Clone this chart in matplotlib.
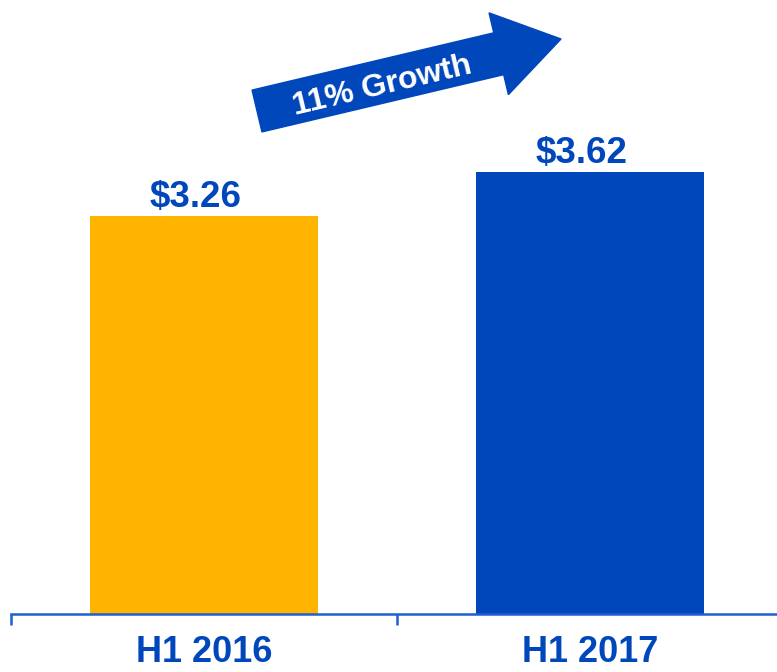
"""Half-year bar chart with growth arrow."""
import matplotlib
matplotlib.use('Agg')
import matplotlib.pyplot as plt
from matplotlib.patches import FancyArrow

periods = ['H1 2016', 'H1 2017']
values = [3.26, 3.62]
value_labels = ['$3.26', '$3.62']
growth_label = '11% Growth'

YELLOW = '#FFB500'
BLUE = '#0047BB'
AXIS_BLUE = '#1F5FCF'

plt.rcParams['font.family'] = ['Liberation Sans', 'DejaVu Sans']

W, H, DPI = 777, 672, 100
fig = plt.figure(figsize=(W / DPI, H / DPI), dpi=DPI)
# axes spans from x=11 to 783 px, baseline at y=614 px
ax = fig.add_axes([11 / W, (H - 614) / H, 772 / W, 614 / H])

x = range(len(periods))
ax.bar(x, values, width=0.59, color=[YELLOW, BLUE], zorder=2)
ax.set_xlim(-0.5, 1.5)
ax.set_ylim(0, 614 / 122)

for xi, v, lab in zip(x, values, value_labels):
    ax.annotate(lab, (xi, v), xytext=(-8, 9), textcoords='offset pixels',
                ha='center', va='baseline', fontsize=26.5, fontweight='bold',
                color=BLUE)

# axis line with category separators
for s in ['top', 'right', 'left']:
    ax.spines[s].set_visible(False)
ax.spines['bottom'].set_color(AXIS_BLUE)
ax.spines['bottom'].set_linewidth(1.8)
ax.set_yticks([])
ax.set_xticks([-0.5, 0.5, 1.5])
ax.set_xticklabels([])
ax.tick_params(axis='x', length=11 * 72 / DPI, width=1.8, color=AXIS_BLUE)
ax.set_xticks(list(x), minor=True)
ax.set_xticklabels(periods, minor=True, fontsize=26, fontweight='bold',
                   color=BLUE)
ax.tick_params(axis='x', which='minor', length=0, pad=15)

# growth arrow, in figure pixels
px = fig.dpi_scale_trans
tail = (257, H - 111)
tip = (561, H - 39)
arrow = FancyArrow(tail[0] / DPI, tail[1] / DPI,
                   (tip[0] - tail[0]) / DPI, (tip[1] - tail[1]) / DPI,
                   width=43 / DPI, head_width=84 / DPI, head_length=64 / DPI,
                   length_includes_head=True, color=BLUE, transform=px,
                   zorder=3)
fig.add_artist(arrow)
fig.text(382 / W, (H - 86) / H, growth_label, rotation=13.3,
         rotation_mode='anchor', ha='center', va='center', fontsize=23,
         fontweight='bold', color='white', zorder=4)

fig.savefig('out.png', dpi=DPI)
